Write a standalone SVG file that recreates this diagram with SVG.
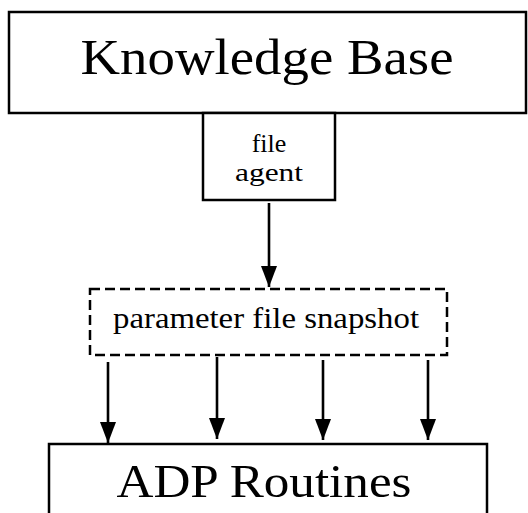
<svg xmlns="http://www.w3.org/2000/svg" width="528" height="513" viewBox="0 0 528 513">
<style>
.box{fill:#fff;stroke:#000;stroke-width:2.5}
.dash{fill:#fff;stroke:#000;stroke-width:2.5;stroke-dasharray:10 5}
.t{font-family:"Liberation Serif","Times New Roman",serif;fill:#000;text-anchor:middle}
.c{stroke:#000;stroke-width:2.6;fill:none}
</style>
<defs>
<marker id="ah" markerUnits="userSpaceOnUse" markerWidth="21" markerHeight="16" refX="21" refY="8" orient="auto" viewBox="0 0 21 16">
<polygon points="0,0 21,8 0,16" fill="#000"/>
</marker>
</defs>
<rect width="528" height="513" fill="#fff"/>
<g id="knowledge-base">
<rect class="box" x="9" y="12" width="517" height="101"/>
<text class="t" x="267" y="74" font-size="50" textLength="373" lengthAdjust="spacingAndGlyphs">Knowledge Base</text>
</g>
<g id="file-agent">
<rect class="box" x="203" y="113" width="132" height="87"/>
<text class="t" x="269" y="152" font-size="26">file</text>
<text class="t" x="269" y="181" font-size="26" textLength="68" lengthAdjust="spacingAndGlyphs">agent</text>
</g>
<g id="parameter-file-snapshot">
<rect class="dash" x="90" y="289" width="357" height="66"/>
<text class="t" x="266" y="328" font-size="29" textLength="306" lengthAdjust="spacingAndGlyphs">parameter file snapshot</text>
</g>
<g id="adp-routines">
<rect class="box" x="49" y="444" width="438" height="80"/>
<text class="t" x="264" y="497" font-size="46" textLength="295" lengthAdjust="spacingAndGlyphs">ADP Routines</text>
</g>
<g id="connectors">
<line class="c" x1="269" y1="203" x2="269" y2="287" marker-end="url(#ah)"/>
<line class="c" x1="108" y1="362" x2="108" y2="443" marker-end="url(#ah)"/>
<line class="c" x1="217" y1="357" x2="217" y2="439" marker-end="url(#ah)"/>
<line class="c" x1="323" y1="360" x2="323" y2="440" marker-end="url(#ah)"/>
<line class="c" x1="428" y1="360" x2="428" y2="440" marker-end="url(#ah)"/>
</g>
</svg>
